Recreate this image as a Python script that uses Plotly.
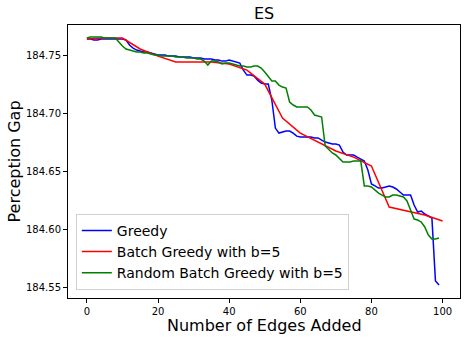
import plotly.graph_objects as go

# Greedy: one value per edge added (0..99)
greedy_x = list(range(100))
greedy_y = [
    184.7637, 184.7637, 184.7629, 184.7629, 184.7637, 184.7637, 184.7637, 184.7637, 184.7637, 184.7637,
    184.7637, 184.7629, 184.7586, 184.7560, 184.7543, 184.7534, 184.7526, 184.7526, 184.7517, 184.7509,
    184.7500, 184.7500, 184.7500, 184.7491, 184.7491, 184.7491, 184.7483, 184.7483, 184.7483, 184.7483,
    184.7474, 184.7474, 184.7474, 184.7466, 184.7466, 184.7466, 184.7457, 184.7457, 184.7448, 184.7448,
    184.7457, 184.7448, 184.7440, 184.7431, 184.7371, 184.7328, 184.7328, 184.7320, 184.7285, 184.7260,
    184.7251, 184.7251, 184.7114, 184.6873, 184.6830, 184.6839, 184.6848, 184.6848, 184.6830, 184.6804,
    184.6796, 184.6796, 184.6796, 184.6796, 184.6788, 184.6788, 184.6770, 184.6753, 184.6745, 184.6736,
    184.6736, 184.6727, 184.6667, 184.6642, 184.6642, 184.6642, 184.6624, 184.6607, 184.6590, 184.6513,
    184.6393, 184.6376, 184.6358, 184.6358, 184.6367, 184.6376, 184.6367, 184.6350, 184.6324, 184.6298,
    184.6298, 184.6298, 184.6212, 184.6152, 184.6161, 184.6135, 184.6118, 184.6101, 184.5560, 184.5526,
]

# Batch greedy, b=5: one value every 5 edges
batch_x = list(range(0, 101, 5))
batch_y = [
    184.7637, 184.7646, 184.7646, 184.7552, 184.7491, 184.7440, 184.7440, 184.7440, 184.7423, 184.7371,
    184.7251, 184.6959, 184.6830, 184.6753, 184.6676, 184.6624, 184.6547, 184.6195, 184.6161, 184.6127,
    184.6075,
]

# Random batch greedy, b=5
random_x = list(range(100))
random_y = [
    184.7646, 184.7655, 184.7655, 184.7655, 184.7655, 184.7646, 184.7646, 184.7646, 184.7646, 184.7612,
    184.7577, 184.7552, 184.7543, 184.7534, 184.7526, 184.7526, 184.7517, 184.7517, 184.7509, 184.7500,
    184.7500, 184.7491, 184.7491, 184.7491, 184.7491, 184.7483, 184.7483, 184.7483, 184.7474, 184.7474,
    184.7474, 184.7466, 184.7466, 184.7448, 184.7414, 184.7448, 184.7448, 184.7440, 184.7423, 184.7431,
    184.7431, 184.7423, 184.7414, 184.7406, 184.7406, 184.7397, 184.7397, 184.7406, 184.7406, 184.7388,
    184.7354, 184.7311, 184.7277, 184.7277, 184.7242, 184.7225, 184.7217, 184.7097, 184.7071, 184.7054,
    184.7054, 184.7054, 184.7054, 184.7028, 184.6985, 184.6976, 184.6968, 184.6719, 184.6693, 184.6659,
    184.6642, 184.6616, 184.6582, 184.6582, 184.6582, 184.6590, 184.6590, 184.6590, 184.6376, 184.6376,
    184.6367, 184.6341, 184.6315, 184.6298, 184.6281, 184.6281, 184.6298, 184.6298, 184.6290, 184.6281,
    184.6247, 184.6170, 184.6092, 184.6084, 184.6067, 184.6024, 184.5955, 184.5921, 184.5921, 184.5929,
]

fig = go.Figure()
fig.add_trace(go.Scatter(x=greedy_x, y=greedy_y, mode='lines', name='Greedy',
                         line=dict(color='blue', width=1.5)))
fig.add_trace(go.Scatter(x=batch_x, y=batch_y, mode='lines', name='Batch Greedy with b=5',
                         line=dict(color='red', width=1.5)))
fig.add_trace(go.Scatter(x=random_x, y=random_y, mode='lines', name='Random Batch Greedy with b=5',
                         line=dict(color='green', width=1.5)))

axis_common = dict(showline=True, linecolor='black', linewidth=1, mirror=True,
                   showgrid=False, zeroline=False, ticks='outside', ticklen=4,
                   tickcolor='black', tickfont=dict(size=10, color='black'),
                   automargin=False)

fig.update_layout(
    width=466, height=340,
    margin=dict(l=68, r=6, t=25, b=42),
    paper_bgcolor='white', plot_bgcolor='white',
    font=dict(family='DejaVu Sans', color='black'),
    xaxis=dict(range=[-5.3, 104.9], tickvals=[0, 20, 40, 60, 80, 100], **axis_common),
    yaxis=dict(range=[184.5414, 184.7758],
               tickvals=[184.55, 184.60, 184.65, 184.70, 184.75], tickformat='.2f',
               **axis_common),
    legend=dict(x=0.02, y=0.03, xanchor='left', yanchor='bottom',
                bgcolor='rgba(255,255,255,0.8)', bordercolor='#d0d0d0', borderwidth=1,
                font=dict(size=14), tracegroupgap=0),
    showlegend=True,
)

# Title and axis titles placed as annotations so the plot area stays fixed
fig.add_annotation(text='ES', xref='paper', yref='paper', x=0.5, y=1, yshift=12,
                   showarrow=False, font=dict(size=16), xanchor='center', yanchor='middle')
fig.add_annotation(text='Number of Edges Added', xref='paper', yref='paper', x=0.5, y=0,
                   yshift=-27, showarrow=False, font=dict(size=16),
                   xanchor='center', yanchor='middle')
fig.add_annotation(text='Perception Gap', xref='paper', yref='paper', x=0, y=0.5,
                   xshift=-54, showarrow=False, font=dict(size=16), textangle=-90,
                   xanchor='center', yanchor='middle')

# drop the page's default body margin so the figure sits at the window's corner
fig.write_html("out.html", config={'displayModeBar': False},
               post_script="document.body.style.margin='0';")
